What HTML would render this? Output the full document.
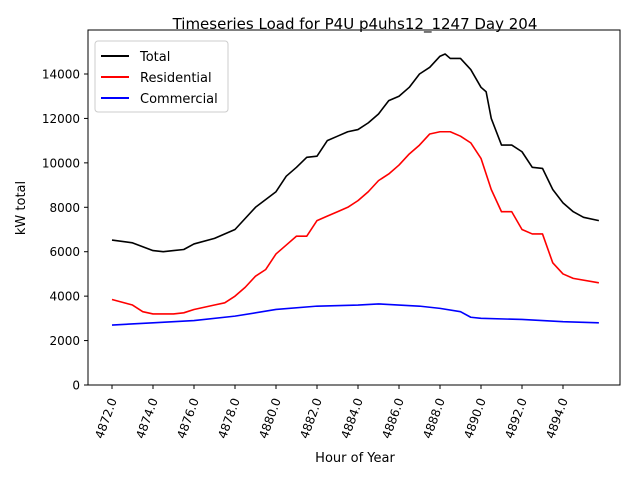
<!DOCTYPE html>
<html><head><meta charset="utf-8"><style>
body{margin:0;background:#fff}
svg text{font-family:"DejaVu Sans","Liberation Sans",sans-serif}
</style></head><body>
<svg id="chart" width="640" height="480" viewBox="0 0 640 480">
<rect width="640" height="480" fill="#fff"/>
<text x="355" y="29" text-anchor="middle" font-size="15">Timeseries Load for P4U p4uhs12_1247  Day 204</text>
<text x="355" y="462" text-anchor="middle" font-size="13">Hour of Year</text>
<text transform="translate(25,208) rotate(-90)" text-anchor="middle" font-size="13">kW total</text>
<g id="grid"></g>
<g id="series"></g>
<rect x="88" y="30" width="532" height="355" fill="none" stroke="#000" stroke-width="1"/>
<g>
<rect x="95" y="41" width="133" height="71" fill="#fff" stroke="#ccc" rx="3"/>
<line x1="101" y1="56" x2="129" y2="56" stroke="#000" stroke-width="2"/>
<text x="140" y="61" font-size="13">Total</text>
<line x1="101" y1="77" x2="129" y2="77" stroke="#f00" stroke-width="2"/>
<text x="140" y="82" font-size="13">Residential</text>
<line x1="101" y1="98" x2="129" y2="98" stroke="#00f" stroke-width="2"/>
<text x="140" y="103" font-size="13">Commercial</text>
</g>
</svg>
<script>
const xTicks=[4872,4874,4876,4878,4880,4882,4884,4886,4888,4890,4892,4894];
const yTicks=[0,2000,4000,6000,8000,10000,12000,14000];
const totalHours=[4872,4873,4874,4874.5,4875,4875.5,4876,4877,4878,4879,4880,4880.5,4881,4881.5,4882,4882.5,4883,4883.5,4884,4884.5,4885,4885.5,4886,4886.5,4887,4887.5,4888,4888.25,4888.5,4889,4889.5,4890,4890.25,4890.5,4891,4891.5,4892,4892.5,4893,4893.5,4894,4894.5,4895,4895.75];
const totalValues=[6525,6400,6050,6000,6050,6100,6350,6600,7000,8000,8700,9400,9800,10250,10300,11000,11200,11400,11500,11800,12200,12800,13000,13400,14000,14300,14800,14900,14700,14700,14200,13400,13200,12000,10800,10800,10500,9800,9750,8800,8200,7800,7550,7400];
const resHours=[4872,4873,4873.5,4874,4875,4875.5,4876,4877,4877.5,4878,4878.5,4879,4879.5,4880,4880.5,4881,4881.5,4882,4882.5,4883,4883.5,4884,4884.5,4885,4885.5,4886,4886.5,4887,4887.5,4888,4888.5,4889,4889.5,4890,4890.5,4891,4891.5,4892,4892.5,4893,4893.5,4894,4894.5,4895.75];
const resValues=[3850,3600,3300,3200,3200,3250,3400,3600,3700,4000,4400,4900,5200,5900,6300,6700,6700,7400,7600,7800,8000,8300,8700,9200,9500,9900,10400,10800,11300,11400,11400,11200,10900,10200,8800,7800,7800,7000,6800,6800,5500,5000,4800,4600];
const comHours=[4872,4874,4876,4878,4880,4882,4884,4885,4886,4887,4888,4889,4889.5,4890,4892,4894,4895.75];
const comValues=[2700,2800,2900,3100,3400,3550,3600,3650,3600,3550,3450,3300,3050,3000,2950,2850,2800];
const NS='http://www.w3.org/2000/svg';
function xs(h){return 112+(h-4872)*20.5;}
function ys(v){return 385-v*311/14000;}
const grid=document.getElementById('grid');
function mk(t,a,p){const e=document.createElementNS(NS,t);for(const k in a)e.setAttribute(k,a[k]);p.appendChild(e);return e;}
xTicks.forEach(t=>{
 const x=xs(t);
 const l=mk('line',{x1:x,y1:385,x2:x,y2:389,stroke:'#000'},grid);
 
 
 const tx=mk('text',{transform:`translate(${x+5},${400}) rotate(-70)`,'text-anchor':'end','font-size':'12'},grid);
 tx.textContent=t.toFixed(1);
 
 
});
yTicks.forEach(t=>{
 const y=ys(t);
 const l=mk('line',{x1:84,y1:y,x2:88,y2:y,stroke:'#000'},grid);
 
 
 const tx=mk('text',{x:80,y:y+4.5,'text-anchor':'end','font-size':'12'},grid);
 tx.textContent=t;
 
 
});
const sg=document.getElementById('series');
function line(hs,vs,c,name){
 const p=mk('polyline',{points:hs.map((h,i)=>xs(h)+','+ys(vs[i])).join(' '),fill:'none',stroke:c,'stroke-width':1.6,'stroke-linejoin':'round'},sg);
 
 
}
line(totalHours,totalValues,'#000','total-line');
line(resHours,resValues,'#f00','residential-line');
line(comHours,comValues,'#00f','commercial-line');
</script>
</body></html>
